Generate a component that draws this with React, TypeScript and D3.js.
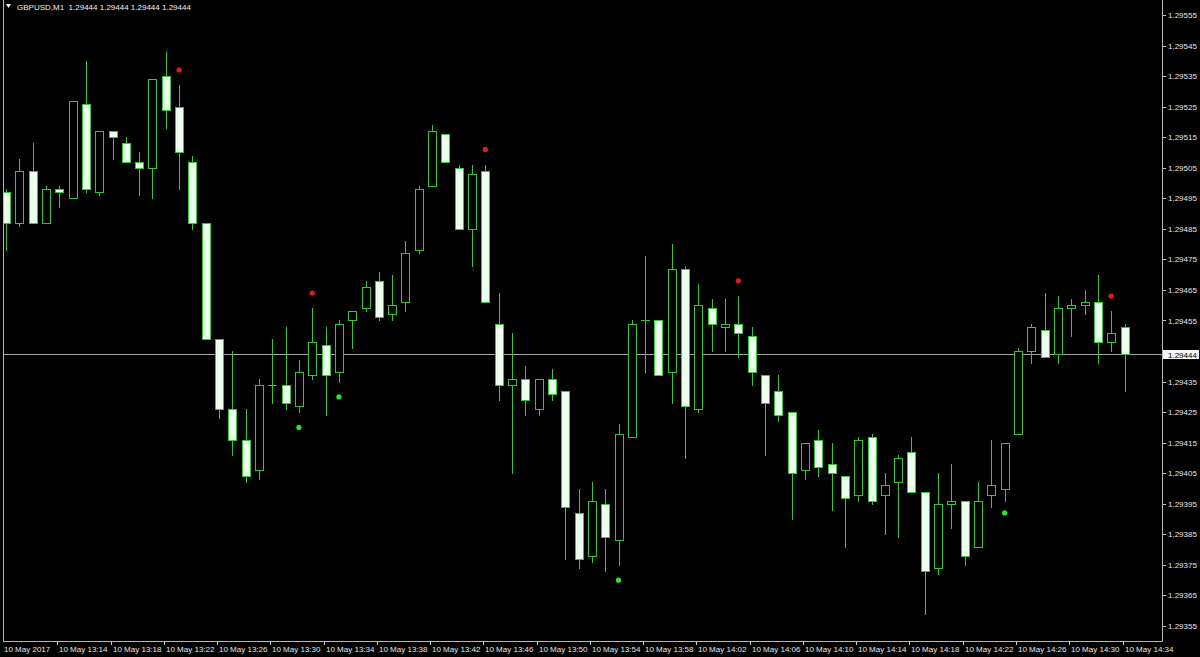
import React from "react";
import * as d3 from "d3";

const times: string[] = [
  "13:10","13:11","13:12","13:13","13:14","13:15","13:16","13:17","13:18","13:19",
  "13:20","13:21","13:22","13:23","13:24","13:25","13:26","13:27","13:28","13:29",
  "13:30","13:31","13:32","13:33","13:34","13:35","13:36","13:37","13:38","13:39",
  "13:40","13:41","13:42","13:43","13:44","13:45","13:46","13:47","13:48","13:49",
  "13:50","13:51","13:52","13:53","13:54","13:55","13:56","13:57","13:58","13:59",
  "14:00","14:01","14:02","14:03","14:04","14:05","14:06","14:07","14:08","14:09",
  "14:10","14:11","14:12","14:13","14:14","14:15","14:16","14:17","14:18","14:19",
  "14:20","14:21","14:22","14:23","14:24","14:25","14:26","14:27","14:28","14:29",
  "14:30","14:31","14:32","14:33","14:34",
];

const opens: number[] = [
  1.29497,1.29487,1.29504,1.29487,1.29498,1.29495,1.29526,1.29497,1.29517,1.29513,
  1.29507,1.29505,1.29535,1.29525,1.29507,1.29487,1.29449,1.29426,1.29416,1.29406,
  1.29434,1.29434,1.29427,1.29437,1.29447,1.29438,1.29455,1.29459,1.29468,1.29457,
  1.29461,1.29478,1.29499,1.29516,1.29505,1.29485,1.29504,1.29454,1.29434,1.29436,
  1.29426,1.29436,1.29432,1.29392,1.29378,1.29395,1.29383,1.29417,1.29455,1.29455,
  1.29438,1.29472,1.29426,1.29459,1.29453,1.29454,1.29450,1.29437,1.29432,1.29425,
  1.29406,1.29416,1.29408,1.29404,1.29398,1.29417,1.29398,1.29402,1.29412,1.29399,
  1.29374,1.29395,1.29396,1.29381,1.29398,1.29400,1.29418,1.29445,1.29452,1.29444,
  1.29459,1.29460,1.29461,1.29448,1.29453,
];
const highs: number[] = [
  1.29498,1.29508,1.29513,1.29499,1.29499,1.29527,1.29540,1.29517,1.29517,1.29515,
  1.29510,1.29534,1.29543,1.29532,1.29509,1.29487,1.29449,1.29445,1.29426,1.29436,
  1.29449,1.29453,1.29442,1.29459,1.29453,1.29455,1.29458,1.29468,1.29471,1.29470,
  1.29481,1.29499,1.29519,1.29516,1.29506,1.29506,1.29506,1.29464,1.29451,1.29440,
  1.29436,1.29439,1.29432,1.29400,1.29402,1.29400,1.29421,1.29455,1.29476,1.29455,
  1.29480,1.29473,1.29467,1.29462,1.29462,1.29463,1.29453,1.29437,1.29437,1.29425,
  1.29415,1.29419,1.29415,1.29404,1.29417,1.29418,1.29405,1.29411,1.29417,1.29399,
  1.29405,1.29408,1.29396,1.29402,1.29416,1.29415,1.29446,1.29454,1.29464,1.29463,
  1.29462,1.29465,1.29470,1.29458,1.29454,
];
const lows: number[] = [
  1.29478,1.29486,1.29487,1.29487,1.29492,1.29495,1.29497,1.29496,1.29508,1.29507,
  1.29496,1.29495,1.29518,1.29498,1.29485,1.29449,1.29423,1.29411,1.29402,1.29403,
  1.29428,1.29426,1.29425,1.29436,1.29424,1.29435,1.29446,1.29458,1.29455,1.29455,
  1.29458,1.29477,1.29499,1.29507,1.29485,1.29473,1.29461,1.29429,1.29405,1.29424,
  1.29424,1.29429,1.29377,1.29374,1.29376,1.29373,1.29375,1.29417,1.29438,1.29437,
  1.29428,1.29410,1.29425,1.29445,1.29445,1.29443,1.29434,1.29411,1.29422,1.29390,
  1.29403,1.29404,1.29393,1.29381,1.29396,1.29395,1.29385,1.29384,1.29399,1.29359,
  1.29372,1.29387,1.29375,1.29381,1.29394,1.29396,1.29418,1.29441,1.29443,1.29441,
  1.29450,1.29457,1.29441,1.29445,1.29432,
];
const closes: number[] = [
  1.29487,1.29504,1.29487,1.29498,1.29497,1.29527,1.29498,1.29517,1.29515,1.29507,
  1.29505,1.29534,1.29524,1.29510,1.29487,1.29449,1.29426,1.29416,1.29404,1.29434,
  1.29434,1.29428,1.29438,1.29448,1.29437,1.29454,1.29458,1.29466,1.29456,1.29460,
  1.29477,1.29498,1.29517,1.29507,1.29485,1.29503,1.29461,1.29434,1.29436,1.29429,
  1.29436,1.29431,1.29394,1.29377,1.29396,1.29384,1.29418,1.29454,1.29455,1.29437,
  1.29472,1.29427,1.29460,1.29454,1.29454,1.29451,1.29438,1.29428,1.29424,1.29405,
  1.29415,1.29407,1.29405,1.29397,1.29416,1.29396,1.29401,1.29410,1.29399,1.29373,
  1.29395,1.29396,1.29378,1.29396,1.29401,1.29415,1.29445,1.29453,1.29443,1.29459,
  1.29460,1.29461,1.29448,1.29451,1.29444,
];

const upMarkerIdx: number[] = [13, 23, 36, 55, 83];
const upMarkerPrice: number[] = [1.29537, 1.29464, 1.29511, 1.29468, 1.29463];
const downMarkerIdx: number[] = [22, 25, 46, 75];
const downMarkerPrice: number[] = [1.29420, 1.29430, 1.29370, 1.29392];

const priceTicks: number[] = [
  1.29555,1.29545,1.29535,1.29525,1.29515,1.29505,1.29495,1.29485,1.29475,1.29465,
  1.29455,1.29435,1.29425,1.29415,1.29405,1.29395,1.29385,1.29375,1.29365,1.29355,
];
const timeTickTimes: string[] = [
  "13:14","13:18","13:22","13:26","13:30","13:34","13:38","13:42","13:46","13:50",
  "13:54","13:58","14:02","14:06","14:10","14:14","14:18","14:22","14:26","14:30","14:34",
];
const firstDateLabel = "10 May 2017";
const datePrefix = "10 May ";
const symbolTitle = "GBPUSD,M1";
const lastPrice = 1.29444;

const W = 1200;
const H = 657;
const FL = 3;
const FR = 1162.5;
const FB = 641;
const GREEN = "#34c634";
const BODY = "#ecffec";
const FONT = "'Liberation Sans', Arial, sans-serif";

export default function App() {
  const x = d3.scalePoint<string>().domain(times).range([6, 1124.5]);
  const y = d3.scaleLinear().domain([1.29355, 1.29555]).range([626, 15]);
  const px = (v: number) => Math.round(v) + 0.5;

  const candles = times.map((t, i) => {
    const cx = Math.round(x(t) as number);
    const o = opens[i], c = closes[i], h = highs[i], l = lows[i];
    const top = px(y(Math.max(o, c)));
    const bot = px(y(Math.min(o, c)));
    const up = c > o;
    const doji = Math.abs(top - bot) < 1;
    return (
      <g key={t}>
        <line x1={cx + 0.5} x2={cx + 0.5} y1={Math.round(y(h))} y2={Math.round(y(l)) + 1} stroke={GREEN} strokeWidth={1} />
        {doji ? (
          <line x1={cx - 4} x2={cx + 5} y1={top} y2={top} stroke={GREEN} strokeWidth={1} />
        ) : (
          <rect x={cx - 3.5} y={top} width={8} height={bot - top} fill={up ? "#000" : BODY} stroke={GREEN} strokeWidth={1} />
        )}
      </g>
    );
  });

  const lastY = px(y(lastPrice));

  return (
    <svg width={W} height={H} style={{ position: "fixed", left: 0, top: 0, background: "#000", display: "block" }} fontFamily={FONT}>
      <rect x={0} y={0} width={W} height={H} fill="#000" />
      <defs>
        <clipPath id="plot">
          <rect x={FL + 0.5} y={0} width={FR - FL - 1} height={FB} />
        </clipPath>
      </defs>
      <line x1={FL} x2={FR} y1={lastY} y2={lastY} stroke="#a4a4a4" strokeWidth={1} />
      <g clipPath="url(#plot)">{candles}</g>
      {upMarkerIdx.map((idx, k) => (
        <circle key={"u" + k} cx={x(times[idx]) as number} cy={y(upMarkerPrice[k])} r={2.6} fill="#e01c1c" />
      ))}
      {downMarkerIdx.map((idx, k) => (
        <circle key={"d" + k} cx={x(times[idx]) as number} cy={y(downMarkerPrice[k])} r={2.6} fill="#2ee02e" />
      ))}
      <line x1={FL + 0.5} x2={FL + 0.5} y1={0} y2={FB + 0.5} stroke="#b8b8b8" strokeWidth={1} />
      <line x1={FR} x2={FR} y1={0} y2={FB + 0.5} stroke="#b8b8b8" strokeWidth={1} />
      <line x1={FL} x2={FR} y1={FB + 0.5} y2={FB + 0.5} stroke="#b8b8b8" strokeWidth={1} />
      {priceTicks.map((p) => (
        <g key={p}>
          <line x1={FR} x2={FR + 3.5} y1={px(y(p))} y2={px(y(p))} stroke="#c8c8c8" />
          <text x={FR + 5.5} y={y(p) + 3} fontSize={8} fill="#e6e6e6">{p.toFixed(5)}</text>
        </g>
      ))}
      <rect x={FR + 0.5} y={lastY - 4.5} width={36} height={9} fill="#f4f4f4" />
      <text x={FR + 5.5} y={lastY + 3} fontSize={8} fill="#000">{lastPrice.toFixed(5)}</text>
      <text x={4} y={652} fontSize={8} fill="#e6e6e6">{firstDateLabel}</text>
      {timeTickTimes.map((t) => {
        const tx = Math.round(x(t) as number) - 2;
        return (
          <g key={t}>
            <line x1={tx + 0.5} x2={tx + 0.5} y1={FB} y2={FB + 4} stroke="#c8c8c8" />
            <text x={tx + 2} y={652} fontSize={8} fill="#e6e6e6">{datePrefix + t}</text>
          </g>
        );
      })}
      <path d="M6,4 L11,4 L8.5,8 Z" fill="#f0f0f0" />
      <text x={17} y={10} fontSize={8} fill="#f0f0f0" xmlSpace="preserve">
        {symbolTitle + "  " + [lastPrice, lastPrice, lastPrice, lastPrice].map((v) => v.toFixed(5)).join(" ")}
      </text>
    </svg>
  );
}
